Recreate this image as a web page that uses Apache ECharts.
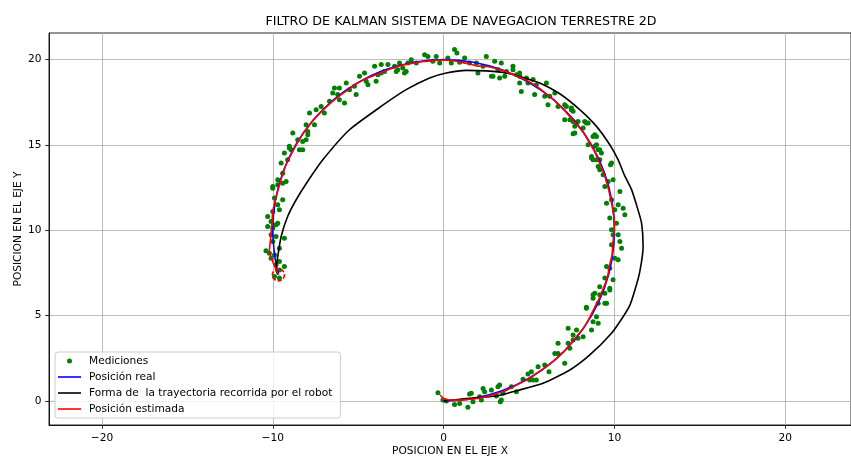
<!DOCTYPE html>
<html><head><meta charset="utf-8">
<script src="https://cdn.jsdelivr.net/npm/echarts@6/dist/echarts.min.js"></script>
<style>html,body{margin:0;padding:0;background:#fff}#c{width:851px;height:457px}</style>
</head><body><div id="c"></div>
<script>
const titleText = 'FILTRO DE KALMAN SISTEMA DE NAVEGACION TERRESTRE 2D';
const xName = 'POSICION EN EL EJE X';
const yName = 'POSICION EN EL EJE Y';
const seriesNames = ['Mediciones', 'Posición real', 'Forma de  la trayectoria recorrida por el robot', 'Posición estimada'];
const xTicks = [-20, -10, 0, 10, 20];
const yTicks = [0, 5, 10, 15, 20];
const xRange = [-23.1, 23.85];
const yRange = [-1.405, 21.56];

const measurements = [
  [-0.33,0.49],[-0.04,0.06],[0.16,0.0],[0.64,-0.2],[0.94,-0.14],[1.42,-0.37],[1.52,0.41],[1.62,0.45],[1.72,-0.04],
  [2.11,0.25],[2.21,0.06],[2.31,0.74],[2.4,0.55],[2.8,0.65],[3.18,0.84],[3.28,0.94],[3.38,0.06],[3.09,0.29],[3.32,-0.04],[3.48,0.45],
  [3.97,0.84],[4.26,0.55],[4.65,1.27],[4.94,1.58],[5.14,1.72],[5.24,1.23],[5.53,2.01],[5.43,1.23],[5.04,1.23],[5.92,2.11],[6.17,1.72],
  [6.51,2.79],[6.7,3.38],[6.7,2.79],[7.09,2.21],[7.29,3.38],[7.39,3.09],[7.58,3.87],[7.87,3.68],[8.17,3.77],[7.29,4.26],[7.78,4.16],[7.58,3.58],
  [8.36,5.44],[8.66,4.16],[8.75,4.65],[9.05,4.56],[8.95,4.94],[8.75,6.22],[9.05,5.73],[9.44,5.73],[9.73,6.51],[9.44,6.32],[8.36,5.49],
  [9.14,6.7],[9.73,6.61],[8.85,6.32],[9.14,6.22],[8.75,6.02],[9.54,5.73],[9.44,7.2],[9.92,7.1],[9.54,7.88],[9.73,7.78],
  [10.02,8.37],[10.22,8.27],[9.83,9.15],[10.42,8.95],[10.32,9.34],[10.22,9.74],[9.92,9.74],[9.83,10.03],[10.12,10.42],[9.73,10.72],
  [10.61,10.91],[10.51,11.3],[10.22,11.5],[10.02,11.2],[9.83,11.79],[9.54,11.59],[10.32,12.28],[9.92,12.96],[9.44,12.57],
  [9.63,12.86],[9.34,13.26],[9.14,13.55],[9.83,13.94],[9.77,13.84],[9.05,13.74],[8.95,14.13],[8.66,14.23],[9.14,14.13],[8.75,14.13],
  [9.24,14.53],[9.14,14.72],[8.66,14.33],[9.05,14.72],[8.85,14.92],[8.95,15.01],[8.46,15.01],[8.85,15.6],[8.75,15.5],[8.95,15.5],
  [7.68,15.7],[7.58,15.66],[8.17,15.99],[8.36,16.29],[7.87,16.38],[7.58,16.38],[7.09,16.48],[7.39,16.48],[7.78,16.29],[8.26,16.38],
  [8.46,16.29],[7.68,16.09],[7.48,17.07],[7.19,17.26],[7.58,16.97],[7.48,17.17],[7.09,17.36],[6.7,17.26],[6.11,17.36],[6.51,18.05],
  [6.21,17.85],[5.92,17.85],[6.02,18.63],[5.33,17.95],[4.55,18.14],[5.43,18.53],[5.24,18.83],[4.94,18.63],[4.85,18.93],[4.45,18.63],
  [4.45,19.02],[4.26,19.12],[4.06,19.41],[4.45,19.22],[4.06,19.61],[3.68,19.31],[3.58,19.02],[3.28,18.93],[2.89,19.02],[2.8,19.02],
  [3.38,19.8],[3.18,19.41],[2.99,19.9],[2.31,19.61],[2.5,20.19],[2.01,19.22],[1.92,19.8],[1.52,19.8],[1.23,20.1],[0.94,19.84],
  [0.78,20.39],[0.64,20.59],[0.45,19.8],[0.25,20.1],[-0.23,19.8],[-0.43,20.19],[-0.63,19.9],[-0.92,20.19],[-1.11,20.29],[-1.6,19.8],
  [-1.89,20.0],[-2.09,19.8],[-2.19,19.31],[-2.39,19.51],[-2.58,19.8],[-2.87,19.61],[-3.26,19.71],[-3.46,19.31],[-3.65,19.71],[-2.29,19.22],
  [-2.77,19.31],[-2.68,19.41],[-3.65,19.22],[-3.85,19.12],[-3.95,18.73],[-4.04,19.61],[-4.43,18.53],[-4.53,18.73],[-4.63,19.22],[-4.92,19.02],
  [-5.12,17.95],[-5.22,18.44],[-5.51,18.24],[-5.7,18.63],[-5.8,17.46],[-6.1,18.34],[-6.39,18.34],[-6.1,17.65],[-6.2,17.95],[-6.49,18.05],
  [-6.68,17.56],[-6.98,16.87],[-7.17,17.26],[-7.46,17.07],[-7.56,16.19],[-7.85,16.87],[-7.95,15.79],[-7.95,15.6],[-8.05,15.31],[-8.05,16.19],
  [-8.25,15.21],[-8.54,15.31],[-8.83,15.7],[-9.03,14.82],[-8.25,14.72],[-8.44,14.72],[-8.93,14.72],[-9.32,14.53],[-9.03,14.92],[-9.13,14.13],
  [-9.51,13.94],[-9.42,13.35],[-9.22,12.86],[-9.71,12.96],[-10.0,12.57],[-10.0,12.47],[-9.71,12.67],[-9.42,12.76],[-9.9,11.89],[-9.42,11.79],
  [-9.71,11.5],[-10.0,11.1],[-9.61,11.2],[-10.3,10.81],[-10.1,10.52],[-9.81,10.32],[-9.71,10.42],[-10.3,10.22],[-10.0,10.13],[-10.1,9.74],
  [-9.81,9.64],[-9.32,9.54],[-10.0,9.34],[-9.61,8.95],[-10.2,8.66],[-9.9,8.56],[-10.1,8.37],[-10.4,8.8],[-9.61,8.17],[-9.81,7.98],
  [-9.32,7.88],[-9.61,7.68],[-9.9,7.29],[-9.61,7.2]
];

const realPath = [
  [0,0],[1.74,0.15],[3.42,0.6],[5.0,1.34],[6.43,2.34],[7.66,3.57],[8.66,5.0],[9.4,6.58],[9.85,8.26],[10,10],
  [9.85,11.74],[9.4,13.42],[8.66,15.0],[7.66,16.43],[6.43,17.66],[5.0,18.66],[3.42,19.4],[1.74,19.85],[0,20],
  [-1.74,19.85],[-3.42,19.4],[-5.0,18.66],[-6.43,17.66],[-7.66,16.43],[-8.66,15.0],[-9.4,13.42],[-9.85,11.74],
  [-10,10],[-9.85,8.26],[-9.66,7.41]
];

const robotShape = [
  [0,0],[1.33,0.14],[3.09,0.29],[4.26,0.6],[5.82,1.04],[7.39,1.82],[8.56,2.7],[9.83,3.97],[10.51,4.94],[10.9,5.6],
  [11.2,6.5],[11.49,7.6],[11.68,9.05],[11.59,10.42],[11.35,11.3],[11.0,12.4],[10.6,13.2],[10.22,14.13],[9.73,15.01],
  [8.95,16.09],[7.97,17.07],[6.8,18.0],[5.63,18.63],[4.85,18.9],[3.68,19.22],[2.5,19.34],[1.33,19.37],[0.16,19.22],
  [-0.82,18.93],[-2.19,18.24],[-3.6,17.3],[-5.51,15.89],[-7.07,14.13],[-8.0,12.8],[-8.63,11.79],[-9.13,10.81],
  [-9.51,9.64],[-9.71,8.46],[-9.81,7.68],[-9.7,7.4]
];

const estimatedPath = [
  [-0.2,0.35],[0,0.15],[0.5,0.05],[1,0.05],[1.5,0.1],[2,0.15],[2.5,0.25],[3,0.4],[3.5,0.55],[4,0.8],[4.5,1.05],[5,1.3],
  [5.5,1.65],[6,2.0],[6.5,2.4],[7,2.85],[7.4,3.3],[7.8,3.8],[8.2,4.3],[8.5,4.8],[8.8,5.4],[9.1,6.0],[9.35,6.6],[9.6,7.3],
  [9.7,7.9],[9.85,8.5],[9.9,9.1],[9.95,9.7],[10.0,10.3],[9.95,10.9],[9.85,11.5],[9.7,12.2],[9.55,12.8],[9.35,13.4],
  [9.1,14.0],[8.85,14.6],[8.5,15.2],[8.2,15.7],[7.8,16.2],[7.45,16.6],[7.0,17.1],[6.5,17.6],[6.0,18.0],[5.5,18.4],
  [5.0,18.7],[4.5,18.95],[4.0,19.15],[3.5,19.35],[3.0,19.5],[2.5,19.6],[2.0,19.62],[1.5,19.75],[1.0,19.85],[0.5,19.95],
  [0,19.97],[-0.5,19.95],[-1.0,19.9],[-1.5,19.85],[-2.0,19.75],[-2.5,19.65],[-3.0,19.5],[-3.5,19.3],[-4.0,19.1],
  [-4.5,18.9],[-5.0,18.65],[-5.5,18.3],[-6.0,17.95],[-6.5,17.55],[-7.0,17.1],[-7.5,16.6],[-7.9,16.1],[-8.3,15.55],
  [-8.6,15.05],[-8.9,14.5],[-9.2,13.9],[-9.45,13.2],[-9.65,12.5],[-9.85,11.8],[-10.0,11.1],[-10.05,10.4],[-10.1,9.8],
  [-10.15,9.3],[-10.2,8.8],[-10.05,8.3],[-9.9,7.9],[-9.75,7.6],[-9.7,7.4]
];

const ellipseCenter = [[-9.67, 7.39]];

const FONT = 'DejaVu Sans';
const fmt = v => String(v).replace('-', '\u2212');
const LINE_ICON = 'path://M0,0H23V1.6H0Z';

const chart = echarts.init(document.getElementById('c'), null, {renderer: 'canvas'});
chart.setOption({
  animation: false,
  backgroundColor: '#fff',
  title: {
    text: titleText, left: 456, top: 10, textAlign: 'center',
    textStyle: {fontFamily: FONT, fontSize: 12.7, fontWeight: 'normal', color: '#000'}
  },
  grid: {left: 49, right: 0, top: 33, bottom: 32, show: true, borderColor: '#000', borderWidth: 0.85,
         containLabel: false, outerBoundsMode: 'none'},
  legend: {
    orient: 'vertical', left: 55, top: 352,
    symbolKeepAspect: true,
    data: [
      {name: seriesNames[0], icon: 'circle'},
      {name: seriesNames[1], icon: LINE_ICON},
      {name: seriesNames[2], icon: LINE_ICON},
      {name: seriesNames[3], icon: LINE_ICON}
    ],
    itemWidth: 23, itemHeight: 5, itemGap: 4,
    padding: [3, 8, 3, 3],
    backgroundColor: 'rgba(255,255,255,0.8)', borderColor: '#cccccc', borderWidth: 1, borderRadius: 3,
    textStyle: {fontFamily: FONT, fontSize: 10.6, color: '#000', lineHeight: 12, padding: [0, 0, 0, 3]}
  },
  xAxis: {
    type: 'value', min: xRange[0], max: xRange[1], minInterval: 10, maxInterval: 10,
    name: xName, nameLocation: 'middle', nameGap: 21, nameMoveOverlap: false,
    nameTextStyle: {fontFamily: FONT, fontSize: 10.6, color: '#000'},
    axisLine: {show: true, onZero: false, lineStyle: {color: '#000', width: 0.85}},
    axisTick: {show: true, inside: false, length: 3.7, customValues: xTicks, lineStyle: {color: '#000', width: 0.85}},
    axisLabel: {show: true, margin: 7.4, customValues: xTicks, formatter: fmt, fontFamily: FONT, fontSize: 10.6, color: '#000'},
    splitLine: {show: true, lineStyle: {color: '#b0b0b0', width: 0.85}}
  },
  yAxis: {
    type: 'value', min: yRange[0], max: yRange[1], minInterval: 5, maxInterval: 5,
    name: yName, nameLocation: 'middle', nameGap: 25, nameMoveOverlap: false,
    nameTextStyle: {fontFamily: FONT, fontSize: 10.6, color: '#000'},
    axisLine: {show: true, onZero: false, lineStyle: {color: '#000', width: 0.85}},
    axisTick: {show: true, inside: false, length: 3.7, customValues: yTicks, lineStyle: {color: '#000', width: 0.85}},
    axisLabel: {show: true, margin: 7.4, customValues: yTicks, formatter: fmt, fontFamily: FONT, fontSize: 10.6, color: '#000'},
    splitLine: {show: true, lineStyle: {color: '#b0b0b0', width: 0.85}}
  },
  series: [
    {name: seriesNames[0], type: 'scatter', data: measurements, symbol: 'circle', symbolSize: 5,
     itemStyle: {color: '#008000', opacity: 1}, z: 2},
    {name: seriesNames[1], type: 'line', data: realPath, symbol: 'none', smooth: 0.4,
     lineStyle: {color: '#0000ff', width: 1.6}, itemStyle: {color: '#0000ff'}, z: 3},
    {name: seriesNames[2], type: 'line', data: robotShape, symbol: 'none', smooth: 0.2,
     lineStyle: {color: '#000000', width: 1.6}, itemStyle: {color: '#000000'}, z: 4},
    {name: seriesNames[3], type: 'line', data: estimatedPath, symbol: 'none', smooth: 0.2,
     lineStyle: {color: '#ff0000', width: 1.6}, itemStyle: {color: '#ff0000'}, z: 5},
    {name: 'elipse', type: 'scatter', data: ellipseCenter, symbol: 'circle', symbolSize: 12,
     itemStyle: {color: 'rgba(255,255,255,0)', opacity: 1, borderColor: '#ff0000', borderWidth: 1.6, borderType: [4, 2]}, z: 10}
  ]
});
</script></body></html>
